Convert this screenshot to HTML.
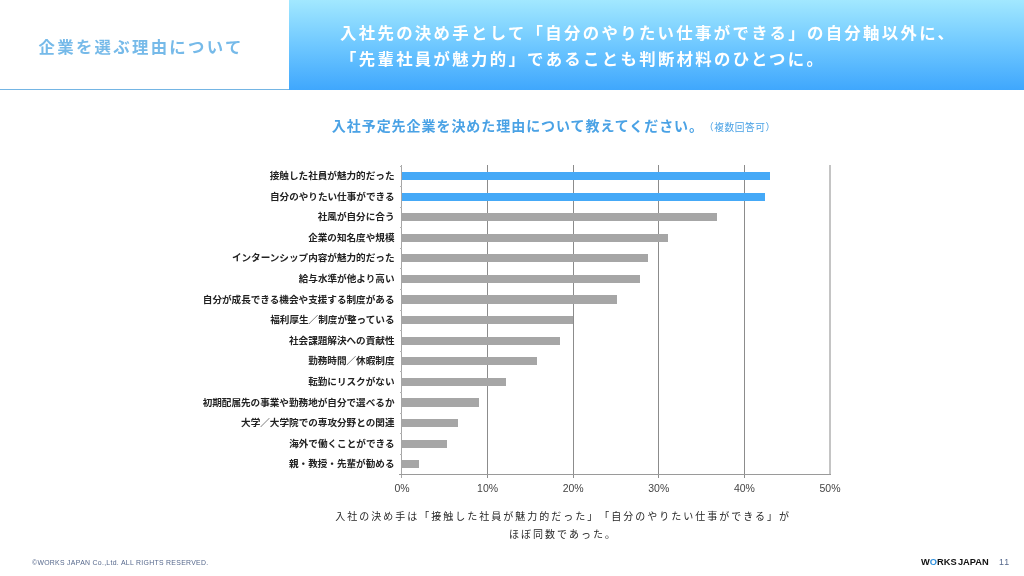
<!DOCTYPE html>
<html lang="ja">
<head>
<meta charset="utf-8">
<title>企業を選ぶ理由について</title>
<style>
html,body{margin:0;padding:0;}
body{width:1024px;height:576px;overflow:hidden;background:#fff;position:relative;font-family:"Liberation Sans","Noto Sans CJK JP",sans-serif;}
.abs{position:absolute;white-space:nowrap;}
#hdr{left:289px;top:0;width:735px;height:89.5px;background:linear-gradient(to bottom,#a2e8ff 0%,#6fc8ff 50%,#3fa7fd 100%);}
#hline{left:0;top:89px;width:289px;height:1px;background:#74b5e4;}
#title{left:38.5px;top:33px;height:28px;line-height:28px;font-size:16.4px;font-weight:700;color:#76bae9;letter-spacing:2.3px;}
.h1{left:340px;color:#fff;font-weight:700;font-size:16.4px;letter-spacing:2.32px;text-spacing-trim:space-all;height:26px;line-height:26px;}
#q{left:331.8px;top:115.2px;height:22px;line-height:22px;font-size:14px;font-weight:700;color:#4aa2e5;letter-spacing:0.95px;}
#q2{left:704px;top:117.5px;height:20px;line-height:20px;font-size:9.7px;color:#4aa2e5;letter-spacing:0.55px;}
.lab{right:629.5px;font-size:9.6px;font-weight:700;color:#222;height:14px;line-height:14px;letter-spacing:0px;}
.bar{left:402px;height:8.3px;}
.g{background:#a6a6a6;}
.b{background:#45a9f7;}
.grid{top:165px;width:1px;height:312.5px;background:#8c8c8c;}
.tick{left:399.5px;width:2.5px;height:1px;background:#b4b4b4;}
.ax{font-size:10.5px;color:#444;top:481.2px;height:14px;line-height:14px;width:40px;text-align:center;}
.note{font-size:10px;color:#262626;font-weight:400;letter-spacing:2.0px;height:16px;line-height:16px;text-spacing-trim:space-all;}
#copy{left:32px;top:558px;height:10px;line-height:10px;font-size:6.9px;color:#56688c;letter-spacing:0.3px;}
#logo{left:921px;top:556.3px;height:12px;line-height:12px;font-size:9.3px;font-weight:700;color:#111;letter-spacing:0px;word-spacing:-1.3px;}
#logo span{color:#2f8fdc;}
#pg{left:999px;top:556.3px;height:12px;line-height:12px;font-size:8.8px;color:#56688c;letter-spacing:1px;}
</style>
</head>
<body>
<div class="abs" id="hdr"></div>
<div class="abs" id="hline"></div>
<div class="abs" id="title">企業を選ぶ理由について</div>
<div class="abs h1" style="top:20px">入社先の決め手として「自分のやりたい仕事ができる」の自分軸以外に、</div>
<div class="abs h1" style="top:46px">「先輩社員が魅力的」であることも判断材料のひとつに。</div>
<div class="abs" id="q">入社予定先企業を決めた理由について教えてください。</div>
<div class="abs" id="q2">（複数回答可）</div>

<div class="abs grid" style="left:487.1px"></div>
<div class="abs grid" style="left:572.7px"></div>
<div class="abs grid" style="left:658.3px"></div>
<div class="abs grid" style="left:743.9px"></div>
<div class="abs grid" style="left:829.0px;width:1.5px;height:309px;background:#c4c4c4"></div>
<div class="abs" style="left:401px;top:165px;width:1px;height:313px;background:#a6a6a6"></div>
<div class="abs" style="left:399px;top:474px;width:432px;height:1px;background:#9a9a9a"></div>
<div class="abs tick" style="top:165.5px"></div>
<div class="abs tick" style="top:186.1px"></div>
<div class="abs tick" style="top:206.7px"></div>
<div class="abs tick" style="top:227.3px"></div>
<div class="abs tick" style="top:247.8px"></div>
<div class="abs tick" style="top:268.4px"></div>
<div class="abs tick" style="top:289.0px"></div>
<div class="abs tick" style="top:309.6px"></div>
<div class="abs tick" style="top:330.2px"></div>
<div class="abs tick" style="top:350.8px"></div>
<div class="abs tick" style="top:371.4px"></div>
<div class="abs tick" style="top:392.0px"></div>
<div class="abs tick" style="top:412.5px"></div>
<div class="abs tick" style="top:433.1px"></div>
<div class="abs tick" style="top:453.7px"></div>
<div class="abs lab" style="top:169.1px">接触した社員が魅力的だった</div>
<div class="abs bar b" style="top:171.9px;width:368.1px"></div>
<div class="abs lab" style="top:189.7px">自分のやりたい仕事ができる</div>
<div class="abs bar b" style="top:192.5px;width:362.9px"></div>
<div class="abs lab" style="top:210.3px">社風が自分に合う</div>
<div class="abs bar g" style="top:213.1px;width:315.0px"></div>
<div class="abs lab" style="top:230.9px">企業の知名度や規模</div>
<div class="abs bar g" style="top:233.7px;width:266.2px"></div>
<div class="abs lab" style="top:251.4px">インターンシップ内容が魅力的だった</div>
<div class="abs bar g" style="top:254.2px;width:245.7px"></div>
<div class="abs lab" style="top:272.0px">給与水準が他より高い</div>
<div class="abs bar g" style="top:274.8px;width:238.0px"></div>
<div class="abs lab" style="top:292.6px">自分が成長できる機会や支援する制度がある</div>
<div class="abs bar g" style="top:295.4px;width:214.9px"></div>
<div class="abs lab" style="top:313.2px">福利厚生／制度が整っている</div>
<div class="abs bar g" style="top:316.0px;width:171.2px"></div>
<div class="abs lab" style="top:333.8px">社会課題解決への貢献性</div>
<div class="abs bar g" style="top:336.6px;width:157.5px"></div>
<div class="abs lab" style="top:354.4px">勤務時間／休暇制度</div>
<div class="abs bar g" style="top:357.2px;width:134.8px"></div>
<div class="abs lab" style="top:375.0px">転勤にリスクがない</div>
<div class="abs bar g" style="top:377.8px;width:103.6px"></div>
<div class="abs lab" style="top:395.5px">初期配属先の事業や勤務地が自分で選べるか</div>
<div class="abs bar g" style="top:398.3px;width:77.0px"></div>
<div class="abs lab" style="top:416.1px">大学／大学院での専攻分野との関連</div>
<div class="abs bar g" style="top:418.9px;width:55.6px"></div>
<div class="abs lab" style="top:436.7px">海外で働くことができる</div>
<div class="abs bar g" style="top:439.5px;width:44.5px"></div>
<div class="abs lab" style="top:457.3px">親・教授・先輩が勧める</div>
<div class="abs bar g" style="top:460.1px;width:17.1px"></div>
<div class="abs ax" style="left:382.0px">0%</div>
<div class="abs ax" style="left:467.6px">10%</div>
<div class="abs ax" style="left:553.2px">20%</div>
<div class="abs ax" style="left:638.8px">30%</div>
<div class="abs ax" style="left:724.4px">40%</div>
<div class="abs ax" style="left:810.0px">50%</div>
<div class="abs note" style="top:508.5px;left:335.3px">入社の決め手は「接触した社員が魅力的だった」「自分のやりたい仕事ができる」が</div>
<div class="abs note" style="top:527px;left:509px">ほぼ同数であった。</div>
<div class="abs" id="copy">©WORKS JAPAN Co.,Ltd. ALL RIGHTS RESERVED.</div>
<div class="abs" id="logo">W<span>O</span>RKS JAPAN</div>
<div class="abs" id="pg">11</div>
</body>
</html>
